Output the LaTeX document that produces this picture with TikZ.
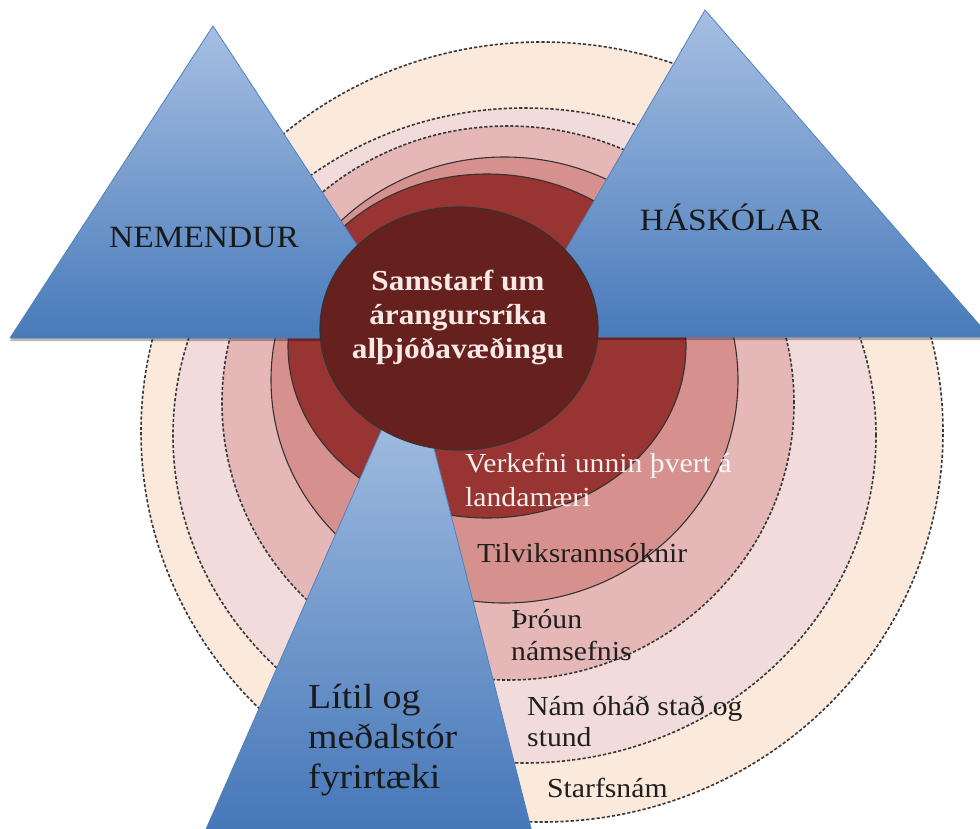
\documentclass[tikz,border=0pt]{standalone}
\usepackage{fontspec}
\setmainfont[FakeStretch=1.08]{Liberation Serif}
\definecolor{peach}{RGB}{251,233,219}
\definecolor{lpink}{RGB}{242,220,219}
\definecolor{mpink}{RGB}{229,184,183}
\definecolor{rose}{RGB}{214,145,143}
\definecolor{redr}{RGB}{152,52,49}
\definecolor{core}{RGB}{102,33,31}
\definecolor{tritop}{RGB}{166,191,226}
\definecolor{tribot}{RGB}{72,122,186}
\definecolor{triedge}{RGB}{79,129,189}
\definecolor{coretext}{RGB}{248,232,230}
\begin{document}
\begin{tikzpicture}[x=1pt,y=-1pt,
  ring/.style={draw=black!80, line width=1.1pt},
  dring/.style={draw=black!78, line width=1.6pt, dash pattern=on 3.2pt off 2pt},
  tri/.style={draw=triedge, line width=0.8pt, top color=tritop, bottom color=tribot},
  trishadow/.style={fill=black, opacity=0.28},
  lbl/.style={font=\fontsize{27.5}{30}\selectfont, text=black!88, anchor=base west, inner sep=0pt},
  wlbl/.style={font=\fontsize{27.5}{30}\selectfont, text=white, opacity=0.92, anchor=base west, inner sep=0pt},
  big/.style={font=\fontsize{31}{34}\selectfont, text=black!90, anchor=base, inner sep=0pt},
  smelbl/.style={font=\fontsize{35}{40}\selectfont, text=black!90, anchor=base west, inner sep=0pt},
  corelbl/.style={font=\bfseries\fontsize{29}{34}\selectfont, text=coretext, anchor=base, inner sep=0pt}
]
\useasboundingbox (0,0) rectangle (980,828);
\clip (0,0) rectangle (980,828);
\fill[white] (0,0) rectangle (980,828);

% rings, outermost first
\path[dring, fill=peach] (542,432) ellipse [x radius=401pt, y radius=390pt];
\path[dring, fill=lpink] (524.5,435.5) ellipse [x radius=351.5pt, y radius=327.5pt];
\path[dring, fill=mpink] (508,403) ellipse [x radius=286pt, y radius=277pt];
\path[ring, fill=rose] (504.5,380) ellipse [x radius=233.5pt, y radius=223pt];
\path[ring, fill=redr] (487,346) ellipse [x radius=199pt, y radius=172pt];

% triangles
\coordinate (nA) at (213,26);
\coordinate (nL) at (10,338);
\coordinate (nR) at (418,338);
\coordinate (hA) at (705,10);
\coordinate (hL) at (515,337);
\coordinate (hR) at (990,337);
\coordinate (fA) at (411.7,361);
\coordinate (fL) at (203,836);
\coordinate (fR) at (533,836);

\fill[trishadow] ([yshift=-3pt]nA) -- ([yshift=-3pt]nL) -- ([yshift=-3pt]nR) -- cycle;
\fill[trishadow] ([yshift=-3pt]hA) -- ([yshift=-3pt]hL) -- ([yshift=-3pt]hR) -- cycle;
\path[tri] (nA) -- (nL) -- (nR) -- cycle;
\path[tri] (hA) -- (hL) -- (hR) -- cycle;
\path[tri, top color={rgb,255:red,172;green,197;blue,229}, bottom color={rgb,255:red,68;green,118;blue,184}] (fA) -- (fL) -- (fR) -- cycle;

% core
\path[ring, fill=core] (459,328.5) ellipse [x radius=139pt, y radius=121.5pt];

% texts
\node[big] (nem) at (204,247) {NEMENDUR};
\node[big] (has) at (731,230) {HÁSKÓLAR};

\node[corelbl] (c1) at (458,290) {Samstarf um};
\node[corelbl] (c2) at (458,324) {árangursríka};
\node[corelbl] (c3) at (458,358) {alþjóðavæðingu};

\node[wlbl] (v1) at (465,472) {Verkefni unnin þvert á};
\node[wlbl] (v2) at (465,506) {landamæri};
\node[lbl] (t1) at (477,562) {Tilviksrannsóknir};
\node[lbl] (p1) at (511,628) {Þróun};
\node[lbl] (p2) at (511,660) {námsefnis};
\node[lbl] (n1) at (527,715) {Nám óháð stað og};
\node[lbl] (n2) at (527,746) {stund};
\node[lbl] (s1) at (547,797) {Starfsnám};

\node[smelbl] (f1) at (308,708) {Lítil og};
\node[smelbl] (f2) at (308,748) {meðalstór};
\node[smelbl] (f3) at (308,788) {fyrirtæki};
\end{tikzpicture}
\end{document}
